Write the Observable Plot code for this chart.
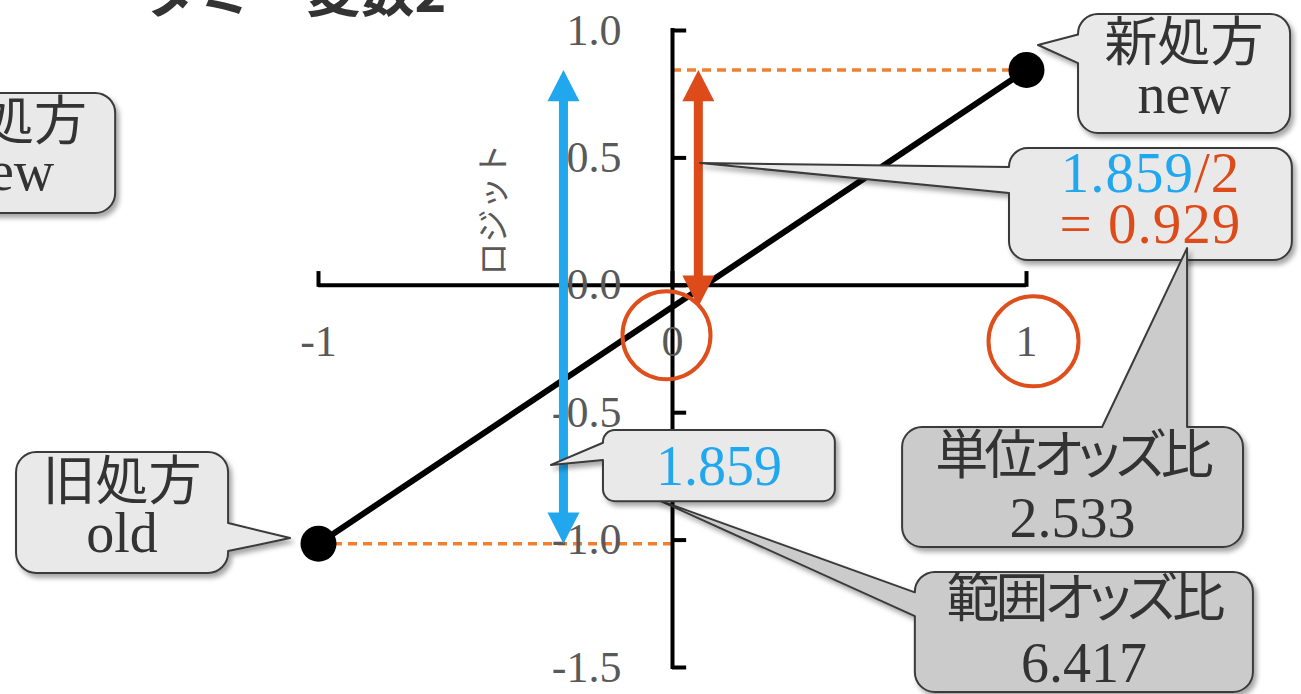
<!DOCTYPE html>
<html><head><meta charset="utf-8">
<script src="https://cdn.jsdelivr.net/npm/d3@7"></script>
<script src="https://cdn.jsdelivr.net/npm/@observablehq/plot@0.6"></script>
<style>html,body{margin:0;padding:0;background:#fff;overflow:hidden}</style>
</head><body><div id="chart"></div>
<script>
// ---- data ----
const title = "ダミー変数2";
const groupNames = ["旧処方", "新処方"];
const groupCodes = ["old", "new"];
const dummyValues = [-1, 1];
const logitValues = [-1.014, 0.845];
const xTickValues = [-1, 0, 1];
const yTickValues = [1.0, 0.5, 0.0, -0.5, -1.0, -1.5];
const yAxisLabel = "ロジット";
const circledTicks = [0, 1];
const logitDifference = 1.859;
const halfDifference = 0.929;
const oddsLabels = ["単位オッズ比", "範囲オッズ比"];
const oddsValues = [2.533, 6.417];

// ---- derived tables ----
const points = dummyValues.map((x, i) => ({x, y: logitValues[i], name: groupNames[i], code: groupCodes[i]}));
const oldY = logitValues[0], newY = logitValues[1];
const interceptY = newY - halfDifference;

// ---- annotation layout (data units) ----
const layout = {blueArrowX: -0.308, redArrowX: 0.073, yLabelX: -0.503, yLabelY: 0.297};
const BLUE = "#21A7EE", RED = "#DD4B1A", ORANGE = "#EF8030", CIRCLE = "#DE4F1C";
const LIGHT = "#E9E9E9", DARK = "#CBCBCB", INK = "#333333";

const callouts = [
  {box: [0.686, -1.127, 1.641, -1.598], fill: DARK,
   wedge: {side: "left", base: [-1.207, -1.300], tip: [-0.040, -0.844]},
   lines: [{font: "cjkTight", dy: 45, spans: [{t: oddsLabels[1]}]}, {font: "serif", dy: 110, spans: [{t: oddsValues[1].toFixed(3)}]}]},
  {box: [-0.195, -0.570, 0.460, -0.849], fill: LIGHT,
   wedge: {side: "left", base: [-0.620, -0.688], tip: [-0.342, -0.707]},
   lines: [{font: "serif", dy: 55, spans: [{t: logitDifference.toFixed(3), fill: BLUE}]}]},
  {box: [0.952, 0.537, 1.751, 0.097], fill: LIGHT,
   wedge: {side: "left", base: [0.462, 0.360], tip: [0.079, 0.478]},
   lines: [{font: "serifWide", dy: 44, spans: [{t: logitDifference.toFixed(3), fill: BLUE}, {t: "/2", fill: RED}]},
           {font: "serifWide", dy: 95, spans: [{t: "= " + halfDifference.toFixed(3), fill: RED}]}]},
  {box: [0.650, -0.558, 1.613, -1.029], fill: DARK,
   wedge: {side: "top", base: [1.215, 1.455], tip: [1.455, 0.144]},
   lines: [{font: "cjkTight", dy: 47, spans: [{t: oddsLabels[0]}]}, {font: "serif", dy: 110, spans: [{t: oddsValues[0].toFixed(3)}]}]},
  {box: [1.147, 1.063, 1.746, 0.596], fill: LIGHT,
   wedge: {side: "left", base: [0.982, 0.870], tip: [1.034, 0.941]},
   lines: [{font: "cjk", dy: 47, spans: [{t: groupNames[1]}]}, {font: "serif", dy: 99, spans: [{t: groupCodes[1]}]}]},
  {box: [-2.181, 0.753, -1.573, 0.282], fill: LIGHT, wedge: null,
   lines: [{font: "cjk", dy: 47, spans: [{t: groupNames[1]}]}, {font: "serif", dy: 97, spans: [{t: groupCodes[1]}]}]},
  {box: [-1.853, -0.656, -1.254, -1.131], fill: LIGHT,
   wedge: {side: "right", base: [-0.935, -1.045], tip: [-1.079, -0.994]},
   lines: [{font: "cjk", dy: 48, spans: [{t: groupNames[0]}]}, {font: "serif", dy: 100, spans: [{t: groupCodes[0]}]}]}
];

const FONTS = {
  cjk: {family: "'Noto Sans CJK JP', sans-serif", size: 53, style: "font-feature-settings:'palt'"},
  cjkTight: {family: "'Noto Sans CJK JP', sans-serif", size: 53, style: "font-feature-settings:'palt';letter-spacing:-4px"},
  serif: {family: "'Liberation Serif', serif", size: 56, style: ""},
  serifWide: {family: "'Liberation Serif', serif", size: 57, style: "letter-spacing:1px"}
};

function calloutPath(x0, y0, x1, y1, r, w) {
  let p = `M${x0 + r},${y0}`;
  if (w && w.side === "top") p += `L${w.b1},${y0}L${w.tx},${w.ty}L${w.b2},${y0}`;
  p += `L${x1 - r},${y0}A${r},${r} 0 0 1 ${x1},${y0 + r}`;
  if (w && w.side === "right") p += `L${x1},${w.b1}L${w.tx},${w.ty}L${x1},${w.b2}`;
  p += `L${x1},${y1 - r}A${r},${r} 0 0 1 ${x1 - r},${y1}`;
  if (w && w.side === "bottom") p += `L${w.b2},${y1}L${w.tx},${w.ty}L${w.b1},${y1}`;
  p += `L${x0 + r},${y1}A${r},${r} 0 0 1 ${x0},${y1 - r}`;
  if (w && w.side === "left") p += `L${x0},${w.b2}L${w.tx},${w.ty}L${x0},${w.b1}`;
  p += `L${x0},${y0 + r}A${r},${r} 0 0 1 ${x0 + r},${y0}Z`;
  return p;
}

function calloutMark(index, scales) {
  const sx = typeof scales.x === "function" ? scales.x : v => scales.x.apply(v);
  const sy = typeof scales.y === "function" ? scales.y : v => scales.y.apply(v);
  const g = d3.create("svg:g");
  g.append("defs").append("filter").attr("id", "cshadow")
    .attr("x", "-10%").attr("y", "-10%").attr("width", "130%").attr("height", "130%")
    .append("feDropShadow").attr("dx", 3).attr("dy", 4).attr("stdDeviation", 2.5)
    .attr("flood-color", "#000").attr("flood-opacity", 0.35);
  for (const c of callouts) {
    const x0 = sx(c.box[0]), y0 = sy(c.box[1]), x1 = sx(c.box[2]), y1 = sy(c.box[3]);
    const r = Math.min(x1 - x0, y1 - y0) / 6;
    let w = null;
    if (c.wedge) {
      const horiz = c.wedge.side === "top" || c.wedge.side === "bottom";
      const b = c.wedge.base.map(v => horiz ? sx(v) : sy(v)).sort((a, b) => a - b);
      w = {side: c.wedge.side, b1: b[0], b2: b[1], tx: sx(c.wedge.tip[0]), ty: sy(c.wedge.tip[1])};
    }
    g.append("path").attr("d", calloutPath(x0, y0, x1, y1, r, w))
      .attr("fill", c.fill).attr("stroke", "#3a3a3a").attr("stroke-width", 2)
      .attr("stroke-linejoin", "round").attr("filter", "url(#cshadow)");
    const cx = (x0 + x1) / 2;
    for (const ln of c.lines) {
      const f = FONTS[ln.font];
      const t = g.append("text").attr("x", cx).attr("y", y0 + ln.dy)
        .attr("text-anchor", "middle").attr("font-family", f.family)
        .attr("font-size", f.size).attr("style", f.style).attr("fill", INK);
      for (const s of ln.spans) t.append("tspan").attr("fill", s.fill || INK).text(s.t);
    }
  }
  return g.node();
}

const headUp = {draw(ctx, size) { const r = Math.sqrt(size / Math.PI); ctx.moveTo(0, 0); ctx.lineTo(r, 1.95 * r); ctx.lineTo(-r, 1.95 * r); ctx.closePath(); }};
const headDown = {draw(ctx, size) { const r = Math.sqrt(size / Math.PI); ctx.moveTo(0, 0); ctx.lineTo(r, -1.95 * r); ctx.lineTo(-r, -1.95 * r); ctx.closePath(); }};

const blueArrow = [{x: layout.blueArrowX, top: newY, bottom: oldY}];
const redArrow = [{x: layout.redArrowX, top: newY, bottom: interceptY}];
const serif = "'Liberation Serif', serif";
const cjk = "'Noto Sans CJK JP', sans-serif";

const plot = Plot.plot({
  width: 1301, height: 694,
  marginLeft: 318, marginRight: 275, marginTop: 30, marginBottom: 27,
  x: {domain: [-1, 1], axis: null},
  y: {domain: [-1.5, 1], axis: null},
  style: {background: "#fff", overflow: "visible"},
  marks: [
    Plot.text([title], {frameAnchor: "top-left", text: d => d, dx: -174, dy: -36, lineAnchor: "middle", textAnchor: "start",
      fontSize: 54, fontWeight: "bold", fontFamily: cjk, fill: "#333"}),
    // dashed guides
    Plot.ruleY([newY], {x1: 0, x2: dummyValues[1], stroke: ORANGE, strokeWidth: 3.5, strokeDasharray: "9,6"}),
    Plot.ruleY([oldY], {x1: dummyValues[0], x2: 0, stroke: ORANGE, strokeWidth: 3.5, strokeDasharray: "9,6"}),
    // axes
    Plot.ruleY([0], {x1: -1, x2: 1, stroke: "#000", strokeWidth: 4}),
    Plot.ruleX([0], {y1: 1, y2: -1.5, stroke: "#000", strokeWidth: 4, strokeLinecap: "square"}),
    Plot.ruleY(yTickValues, {x1: 0, x2: 0.04, stroke: "#000", strokeWidth: 4}),
    Plot.ruleX(xTickValues, {y1: 0.046, y2: 0, stroke: "#000", strokeWidth: 4, strokeLinecap: "square"}),
    Plot.text(yTickValues, {x: 0, y: d => d, text: d => d.toFixed(1), dx: -51, textAnchor: "end",
      fontSize: 44, fontFamily: serif, fill: "#595959"}),
    Plot.text(xTickValues, {x: d => d, y: 0, text: d => String(d), dy: 57,
      fontSize: 44, fontFamily: serif, fill: "#595959"}),
    Plot.text([yAxisLabel], {x: layout.yLabelX, y: layout.yLabelY, text: d => d, rotate: -90,
      fontSize: 33, fontFamily: cjk, fill: "#595959"}),
    // regression line and points
    Plot.line(points, {x: "x", y: "y", stroke: "#000", strokeWidth: 6}),
    Plot.dot(points, {x: "x", y: "y", r: 18, fill: "#000"}),
    // arrows
    Plot.ruleX(blueArrow, {x: "x", y1: "top", y2: "bottom", stroke: BLUE, strokeWidth: 9, insetTop: 20, insetBottom: 20}),
    Plot.dot(blueArrow, {x: "x", y: "top", r: 16, symbol: headUp, fill: BLUE}),
    Plot.dot(blueArrow, {x: "x", y: "bottom", r: 16, symbol: headDown, fill: BLUE}),
    Plot.ruleX(redArrow, {x: "x", y1: "top", y2: "bottom", stroke: RED, strokeWidth: 9, insetTop: 20, insetBottom: 20}),
    Plot.dot(redArrow, {x: "x", y: "top", r: 16, symbol: headUp, fill: RED}),
    Plot.dot(redArrow, {x: "x", y: "bottom", r: 16, symbol: headDown, fill: RED}),
    // circled tick labels
    Plot.dot([circledTicks[0]], {x: d => d, y: 0, r: 44, dx: -6, dy: 50, fill: "none", stroke: CIRCLE, strokeWidth: 4}),
    Plot.dot([circledTicks[1]], {x: d => d, y: 0, r: 45, dx: 7, dy: 56, fill: "none", stroke: CIRCLE, strokeWidth: 4}),
    // callouts
    calloutMark
  ]
});
document.getElementById("chart").appendChild(plot);
</script>
</body></html>
